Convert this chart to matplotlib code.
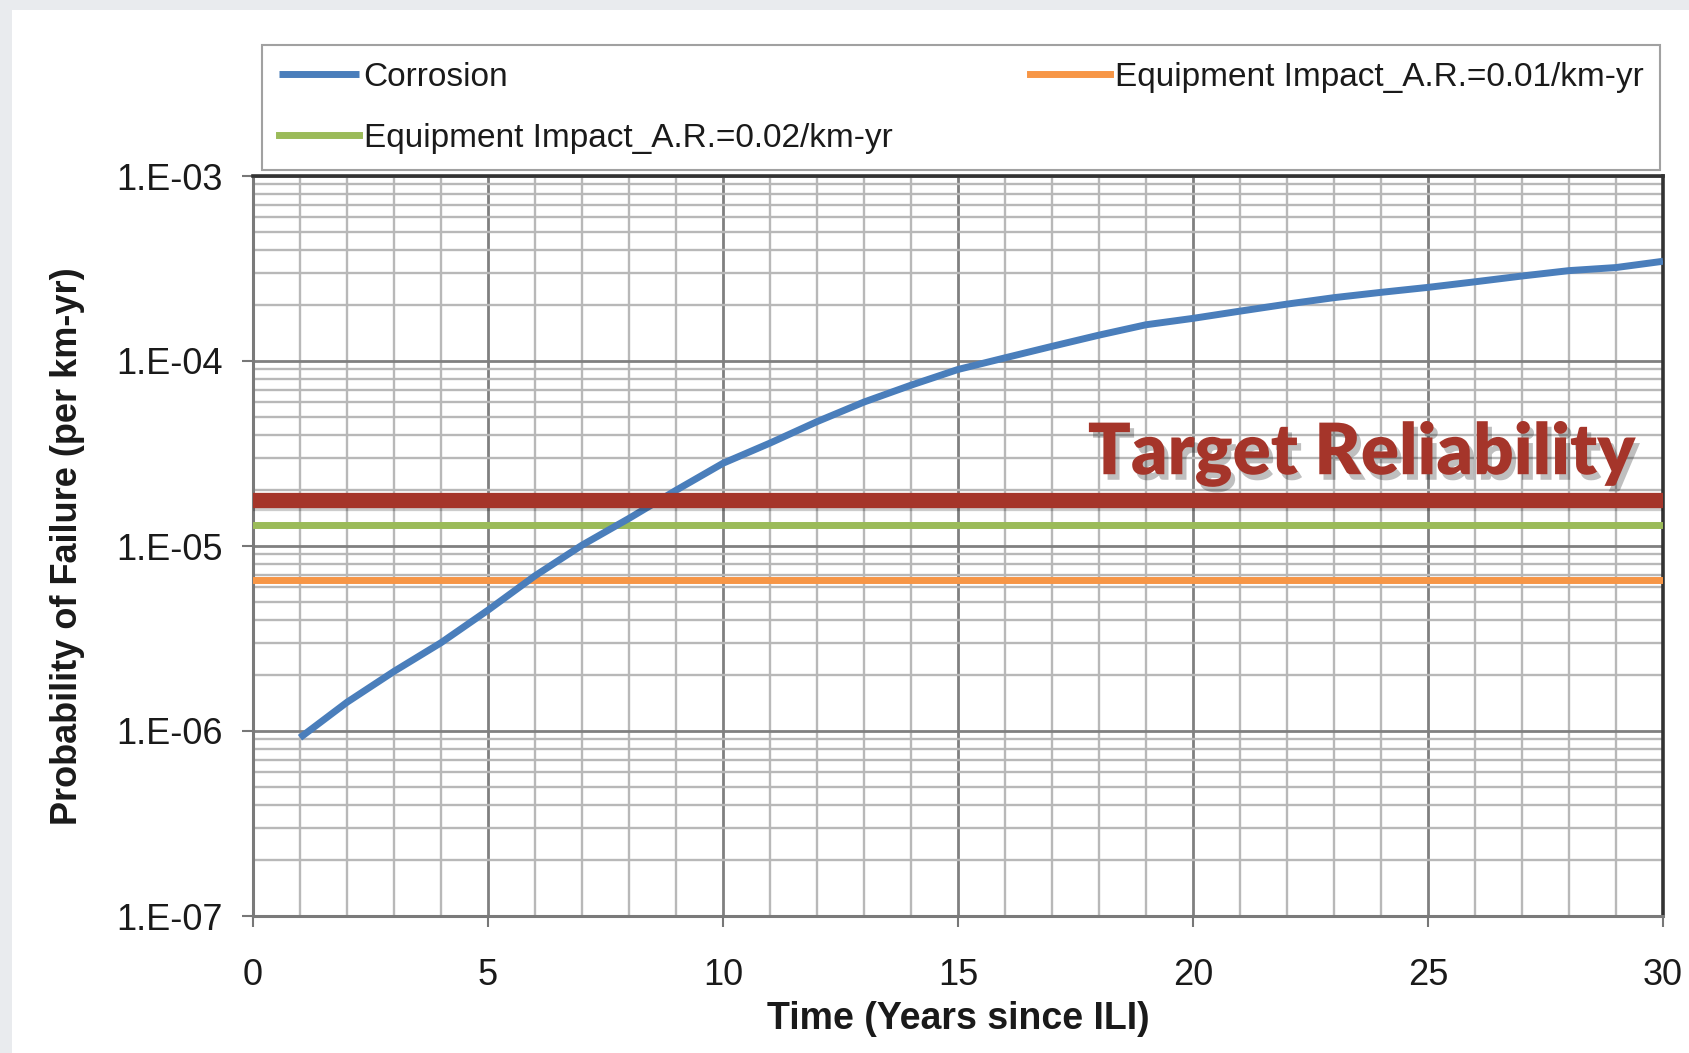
import numpy as np
import matplotlib
matplotlib.use("Agg")
import matplotlib.pyplot as plt
import matplotlib.patheffects as pe
from matplotlib.patches import Rectangle
from matplotlib.ticker import LogLocator, FuncFormatter, MultipleLocator

# Data
years = list(range(1, 31))
corrosion = [9.2e-7, 1.43e-6, 2.1e-6, 3.0e-6, 4.5e-6, 6.9e-6, 1.01e-5, 1.41e-5,
             2.0e-5, 2.8e-5, 3.6e-5, 4.7e-5, 6.0e-5, 7.4e-5, 9.0e-5, 1.04e-4,
             1.2e-4, 1.38e-4, 1.57e-4, 1.7e-4, 1.86e-4, 2.03e-4, 2.2e-4, 2.35e-4,
             2.5e-4, 2.68e-4, 2.88e-4, 3.08e-4, 3.2e-4, 3.46e-4]
impact_001 = 6.55e-6   # Equipment Impact, A.R. = 0.01/km-yr
impact_002 = 1.3e-5    # Equipment Impact, A.R. = 0.02/km-yr
target_reliability = 1.77e-5

labels = ["Corrosion",
          "Equipment Impact_A.R.=0.01/km-yr",
          "Equipment Impact_A.R.=0.02/km-yr"]

plt.rcParams['font.family'] = ['Liberation Sans', 'DejaVu Sans']

fig = plt.figure(figsize=(16.9, 10.53), dpi=100)
fig.patch.set_facecolor('#e9ebee')
# white slide panel, kept behind everything
fig.patches.append(Rectangle((12 / 1690, 0), 1, 1 - 10 / 1053, transform=fig.transFigure,
                             facecolor='white', edgecolor='none', zorder=-10))

ax = fig.add_axes([253 / 1690, 1 - 916 / 1053, 1410 / 1690, 740 / 1053])
ax.set_facecolor('white')
ax.set_yscale('log')
ax.set_xlim(0, 30)
ax.set_ylim(1e-7, 1e-3)

# grid
ax.xaxis.set_major_locator(MultipleLocator(5))
ax.xaxis.set_minor_locator(MultipleLocator(1))
ax.yaxis.set_major_locator(LogLocator(base=10, numticks=10))
ax.yaxis.set_minor_locator(LogLocator(base=10, subs=np.arange(2, 10), numticks=20))
ax.grid(which='major', color='#808080', linewidth=2.0)
ax.grid(which='minor', color='#b8b8b8', linewidth=1.7)
ax.set_axisbelow(True)

ax.yaxis.set_major_formatter(FuncFormatter(lambda v, p: "1.E{:03d}".format(int(round(np.log10(v))))))
ax.tick_params(which='major', direction='out', length=8, width=1.5, color='#777777',
               labelsize=26, labelcolor='#1a1a1a')
ax.tick_params(axis='x', which='major', pad=22)
ax.tick_params(axis='y', which='major', pad=14)
ax.tick_params(which='minor', length=0)

for side in ['left', 'bottom']:
    ax.spines[side].set_color('#7a7a7a')
    ax.spines[side].set_linewidth(2.2)
for side in ['top', 'right']:
    ax.spines[side].set_color('#333333')
    ax.spines[side].set_linewidth(2.6)

# series
ln_corr, = ax.plot(years, corrosion, color='#4a7ebb', linewidth=5, solid_capstyle='butt', zorder=5)
ln_001 = ax.axhline(impact_001, color='#f79646', linewidth=5, zorder=4)
ln_002 = ax.axhline(impact_002, color='#9bbb59', linewidth=5, zorder=4)
ax.axhline(target_reliability, color='#a5352a', linewidth=11, zorder=6,
           path_effects=[pe.SimpleLineShadow(offset=(2, -2), shadow_color='black', alpha=0.2),
                         pe.Normal()])

ax.text(0.981, 0.597, "Target Reliability", transform=ax.transAxes, ha='right', va='baseline',
        fontsize=51, fontweight='heavy', family=['Lato', 'DejaVu Sans'], color='#a5352a', zorder=7,
        path_effects=[pe.SimplePatchShadow(offset=(3, -4), shadow_rgbFace='black', alpha=0.25),
                      pe.Normal()])

ax.set_xlabel("Time (Years since ILI)", fontsize=27, fontweight='bold', color='#1a1a1a', labelpad=6)
ax.set_ylabel("Probability of Failure (per km-yr)", fontsize=26, fontweight='bold', color='#1a1a1a', labelpad=22)

# legend: Corrosion / 0.02 in first column, 0.01 in second
leg = fig.legend([ln_corr, ln_002, ln_001], [labels[0], labels[2], labels[1]],
                 loc='upper left', bbox_to_anchor=(262 / 1690, 1 - 45 / 1053, 1398 / 1690, 0.0),
                 mode='expand', ncol=2, fontsize=24, frameon=True, fancybox=False,
                 handlelength=2.4, handletextpad=0.15, labelspacing=0.9, borderpad=0.5,
                 borderaxespad=0)
leg.get_frame().set_edgecolor('#8a8a8a')
leg.get_frame().set_linewidth(1.5)
for t in leg.get_texts():
    t.set_color('#1a1a1a')

fig.savefig("out.png", dpi=100, facecolor=fig.get_facecolor())
